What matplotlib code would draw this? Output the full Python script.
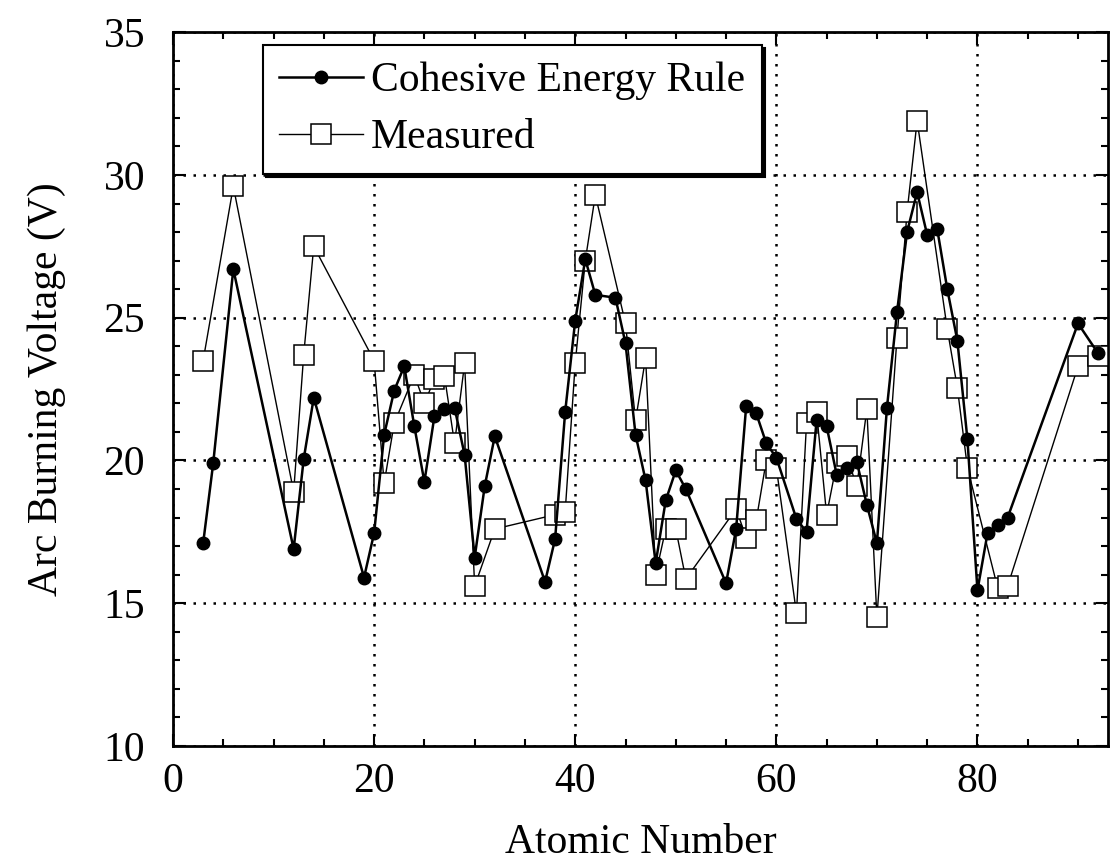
import matplotlib.pyplot as plt
from matplotlib.ticker import MultipleLocator

# cohesive energy rule prediction (atomic number, volts)
coh_z = [3, 4, 6, 12, 13, 14, 19, 20, 21, 22, 23, 24, 25, 26, 27, 28, 29, 30, 31, 32,
         37, 38, 39, 40, 41, 42, 44, 45, 46, 47, 48, 49, 50, 51, 55, 56, 57, 58, 59, 60,
         62, 63, 64, 65, 66, 67, 68, 69, 70, 71, 72, 73, 74, 75, 76, 77, 78, 79, 80, 81,
         82, 83, 90, 92]
coh_v = [17.1, 19.9, 26.7, 16.9, 20.05, 22.2, 15.9, 17.45, 20.9, 22.45, 23.3, 21.2, 19.25,
         21.55, 21.8, 21.85, 20.2, 16.6, 19.1, 20.85,
         15.75, 17.25, 21.7, 24.9, 27.05, 25.8, 25.7, 24.1, 20.9, 19.3, 16.4, 18.6, 19.65,
         19.0, 15.7, 17.6, 21.9, 21.65, 20.6, 20.1,
         17.95, 17.5, 21.4, 21.2, 19.5, 19.75, 19.95, 18.45, 17.1, 21.85, 25.2, 28.0, 29.4,
         27.9, 28.1, 26.0, 24.2, 20.75, 15.45, 17.45,
         17.75, 18.0, 24.8, 23.75]

# measured arc burning voltage
meas_z = [3, 6, 12, 13, 14, 20, 21, 22, 24, 25, 26, 27, 28, 29, 30, 32, 38, 39, 40, 41,
          42, 45, 46, 47, 48, 49, 50, 51, 56, 57, 58, 59, 60, 62, 63, 64, 65, 66, 67, 68,
          69, 70, 72, 73, 74, 77, 78, 79, 82, 83, 90, 92]
meas_v = [23.5, 29.6, 18.9, 23.7, 27.5, 23.5, 19.2, 21.3, 23.0, 22.0, 22.85, 22.95, 20.6,
          23.4, 15.6, 17.6, 18.1, 18.2, 23.4, 27.0,
          29.3, 24.8, 21.4, 23.6, 16.0, 17.6, 17.6, 15.85, 18.3, 17.3, 17.9, 20.0, 19.75,
          14.65, 21.3, 21.7, 18.1, 19.9, 20.15, 19.1,
          21.8, 14.5, 24.3, 28.7, 31.9, 24.6, 22.55, 19.75, 15.55, 15.6, 23.3, 23.65]

plt.rcParams['font.family'] = ['Liberation Serif', 'DejaVu Serif']

fig = plt.figure(figsize=(11.16, 8.61), dpi=100)
ax = fig.add_axes([0.155, 0.1336, 0.838, 0.829])

ax.plot(coh_z, coh_v, color='black', lw=1.8, marker='o', markersize=9,
        label='Cohesive Energy Rule', zorder=4)
ax.plot(meas_z, meas_v, color='black', lw=1.0, marker='s', markersize=14.5,
        markerfacecolor='white', markeredgecolor='black', markeredgewidth=1.1,
        label='Measured', zorder=3)

ax.set_xlim(0, 93)
ax.set_ylim(10, 35)
ax.xaxis.set_major_locator(MultipleLocator(20))
ax.xaxis.set_minor_locator(MultipleLocator(5))
ax.yaxis.set_major_locator(MultipleLocator(5))
ax.yaxis.set_minor_locator(MultipleLocator(1))

ax.grid(True, which='major', color='black', linestyle=(0, (1, 3)), lw=1.8)
ax.tick_params(which='both', direction='in', top=True, right=True, width=1.5)
ax.tick_params(which='major', length=9, labelsize=30)
ax.tick_params(axis='x', which='major', pad=12)
ax.tick_params(axis='y', which='major', pad=20)
ax.tick_params(which='minor', length=5)
for s in ax.spines.values():
    s.set_linewidth(2)

ax.set_xlabel('Atomic Number', fontsize=30, labelpad=16)
ax.set_ylabel('Arc Burning Voltage (V)', fontsize=30, labelpad=27)

leg = ax.legend(loc='upper left', bbox_to_anchor=(0.096, 0.982), fontsize=30,
                frameon=True, fancybox=False, shadow={'color': 'black', 'alpha': 1},
                handlelength=2.0, borderpad=0.4, labelspacing=0.45, handletextpad=0.2,
                borderaxespad=0)
leg.get_frame().set_edgecolor('black')
leg.get_frame().set_linewidth(1.5)
leg.get_frame().set_alpha(1)

fig.savefig('out.png', dpi=100)
